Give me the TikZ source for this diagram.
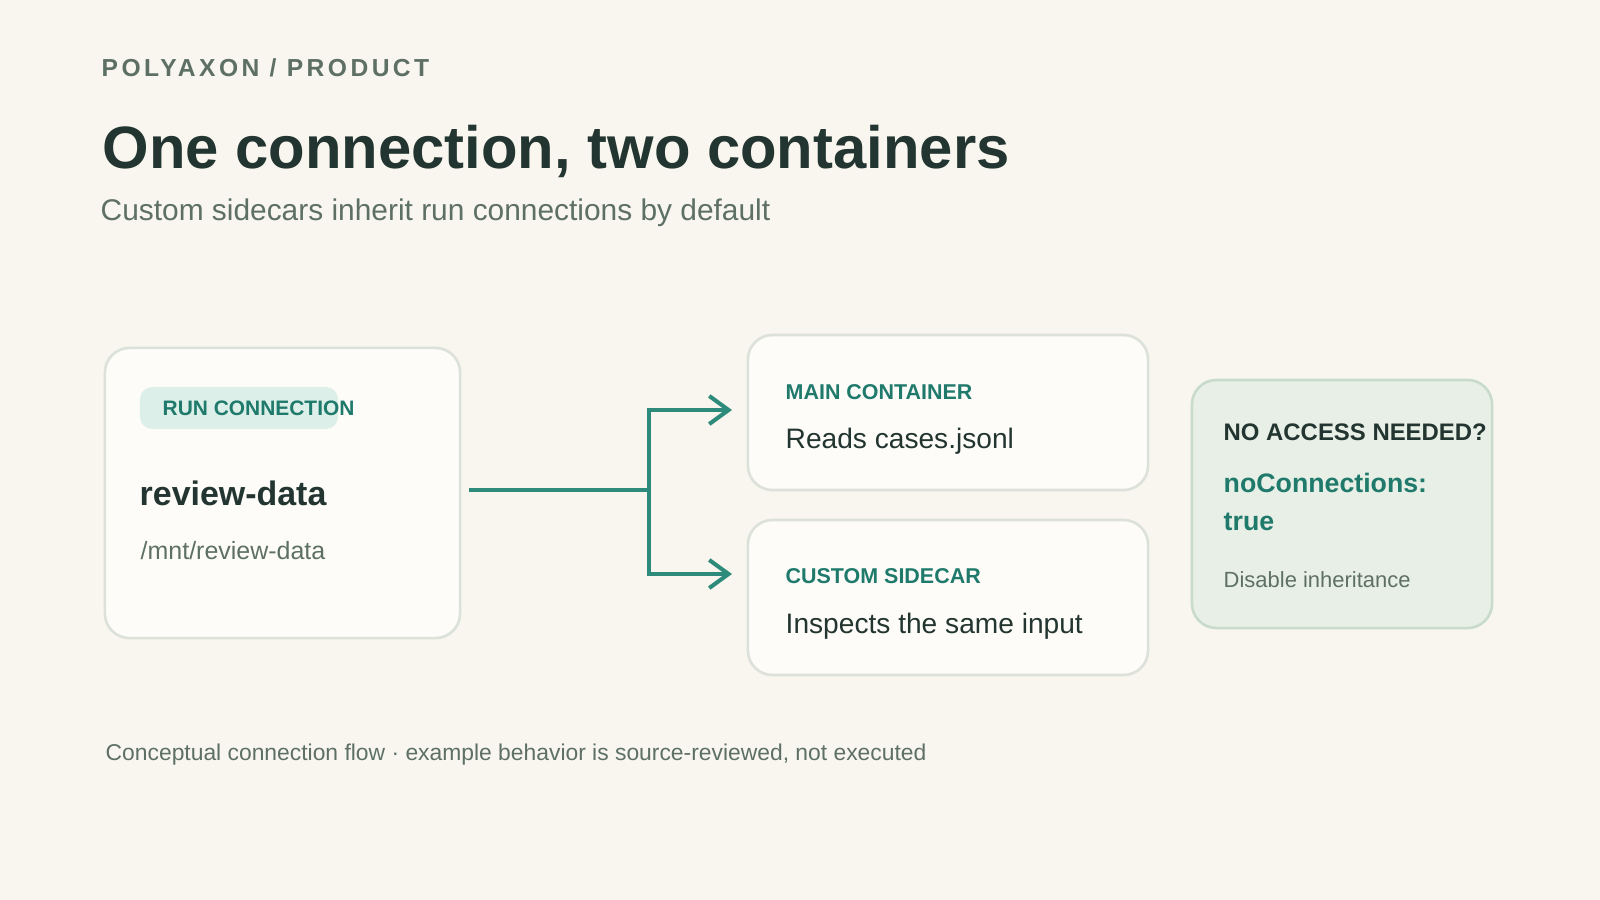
\documentclass[tikz,border=0pt]{standalone}
\usepackage{fontspec}
\setmainfont{Liberation Sans}
\newfontfamily\eyebrowfont[LetterSpace=14]{Liberation Sans}
\usepackage{tikz}
\usetikzlibrary{arrows.meta,positioning}
\usepackage{xcolor}
\definecolor{bgcream}{HTML}{F8F6EF}
\definecolor{inkdark}{HTML}{233530}
\definecolor{inkgray}{HTML}{5E7064}
\definecolor{tealtext}{HTML}{1F7A6C}
\definecolor{tealline}{HTML}{2E8B7B}
\definecolor{cardfill}{HTML}{FDFCF8}
\definecolor{cardline}{HTML}{DCE2DA}
\definecolor{notefill}{HTML}{E8EFE6}
\definecolor{noteline}{HTML}{C9DCCC}
\definecolor{pillfill}{HTML}{DCEFE8}

\begin{document}
\begin{tikzpicture}[
    x=0.01cm, y=-0.01cm,
    card/.style={rectangle, draw=cardline, line width=0.75pt, fill=cardfill, rounded corners=7pt, inner sep=0pt},
    txt/.style={anchor=base west, inner sep=0pt},
    tag/.style={txt, text=tealtext, font=\bfseries\fontsize{6.1}{7}\selectfont},
    body/.style={txt, text=inkdark, font=\fontsize{8}{9}\selectfont},
    flow/.style={draw=tealline, line width=1.15pt, -{Straight Barb[length=5.5pt, width=8pt, line width=1.15pt]}}
]
    \fill[bgcream] (0,0) rectangle (1600,900);
    \useasboundingbox (0,0) rectangle (1600,900);

    % header
    \node[txt, text=inkgray, font=\eyebrowfont\bfseries\fontsize{7}{8}\selectfont] (eyebrow) at (101,77) {POLYAXON / PRODUCT};
    \node[txt, text=inkdark, font=\bfseries\fontsize{17}{20}\selectfont] (title) at (102,168) {One connection, two containers};
    \node[txt, text=inkgray, font=\fontsize{8.5}{10}\selectfont] (subtitle) at (100,220) {Custom sidecars inherit run connections by default};

    % run connection card
    \node[card, minimum width=3.55cm, minimum height=2.9cm] (run) at (282.5,493) {};
    \node[rectangle, fill=pillfill, rounded corners=3.5pt, minimum width=1.98cm, minimum height=0.42cm] (pill) at (239,408) {};
    \node[tag, font=\bfseries\fontsize{5.95}{7}\selectfont] (runtag) at (162,415) {RUN CONNECTION};
    \node[txt, text=inkdark, font=\bfseries\fontsize{9.65}{11}\selectfont] (runname) at (139,505) {review-data};
    \node[txt, text=inkgray, font=\fontsize{7.1}{8}\selectfont] (runpath) at (140,559) {/mnt/review-data};

    % containers
    \node[card, minimum width=4cm, minimum height=1.55cm] (main) at (948,412.5) {};
    \node[tag] (maintag) at (785,399) {MAIN CONTAINER};
    \node[body] (maintext) at (785,448) {Reads cases.jsonl};

    \node[card, minimum width=4cm, minimum height=1.55cm] (side) at (948,597.5) {};
    \node[tag] (sidetag) at (785,583) {CUSTOM SIDECAR};
    \node[body] (sidetext) at (785,633) {Inspects the same input};

    % opt-out note
    \node[card, draw=noteline, fill=notefill, minimum width=3cm, minimum height=2.48cm] (note) at (1342,504) {};
    \node[txt, text=inkdark, font=\bfseries\fontsize{6.8}{8}\selectfont] (notehead) at (1223,440) {NO ACCESS NEEDED?};
    \node[txt, text=tealtext, font=\bfseries\fontsize{7.6}{9}\selectfont] (notekey) at (1223,492) {noConnections:};
    \node[txt, text=tealtext, font=\bfseries\fontsize{7.6}{9}\selectfont] (noteval) at (1223,530) {true};
    \node[txt, text=inkgray, font=\fontsize{6.25}{7}\selectfont] (notetext) at (1223,587) {Disable inheritance};

    % connectors
    \coordinate (split) at (649,490);
    \coordinate (mainin) at (732,410);
    \coordinate (sidein) at (732,574);
    \draw[draw=tealline, line width=1.15pt] ([xshift=0.08cm]run.east |- split) -- (split);
    \draw[flow] (split) |- (mainin);
    \draw[flow] (split) |- (sidein);

    \node[txt, text=inkgray, font=\fontsize{6.5}{7}\selectfont] (footer) at (105,760) {Conceptual connection flow · example behavior is source-reviewed, not executed};
\end{tikzpicture}
\end{document}
